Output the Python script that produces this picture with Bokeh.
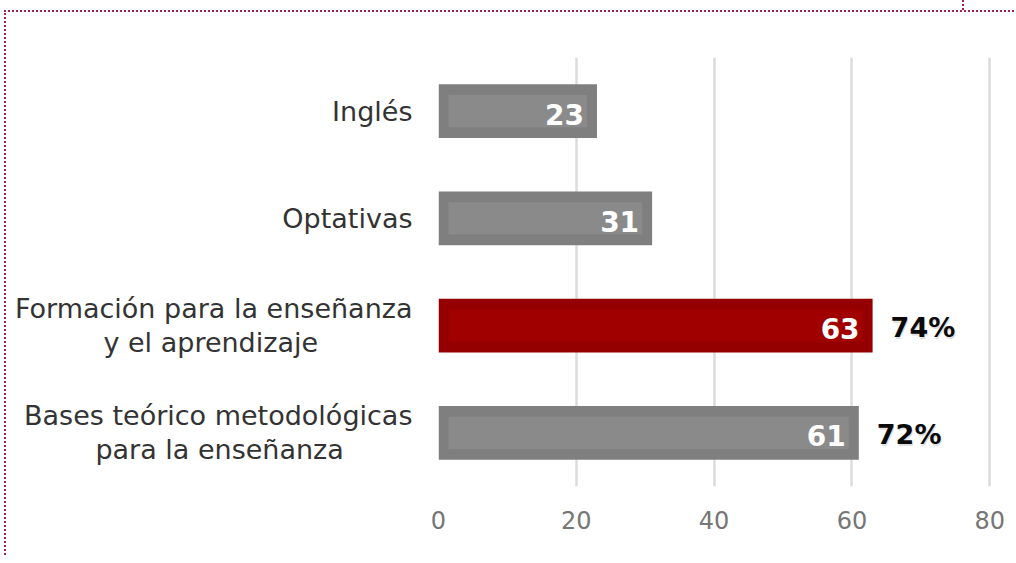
from bokeh.plotting import figure
from bokeh.models import ColumnDataSource, Range1d, FixedTicker, InlineStyleSheet
from bokeh.core.properties import value
from bokeh.embed import file_html
from bokeh.resources import INLINE

# ---- data (bottom to top) ----
categories = [
    ["Bases teórico metodológicas", "para la enseñanza"],
    ["Formación para la enseñanza", "y el aprendizaje"],
    ["Optativas"],
    ["Inglés"],
]
counts = [61, 63, 31, 23]
percents = ["72%", "74%", "", ""]
highlight = [False, True, False, False]
x_ticks = [0, 20, 40, 60, 80]

GRAY_OUT, GRAY_IN = "#7f7f7f", "#8a8a8a"
RED_OUT, RED_IN = "#940000", "#a00000"
BORDER = "#a3214a"
INSET = 1.45  # ~10px glow inset, in data units
NBSP = "\u00a0"
# trailing no-break spaces so that the second line of a right-aligned
# two-line tick label sits centred under the first line
PAD = {0: 8, 1: 11}

y_pos = list(range(len(categories)))


def tick_text(i, lines):
    if len(lines) == 1:
        return lines[0]
    return lines[0] + "\n" + lines[1] + NBSP * PAD.get(i, 0)


src = ColumnDataSource(dict(
    y=y_pos,
    count=counts,
    inner_left=[INSET for _ in counts],
    inner_right=[c - INSET for c in counts],
    label=[str(c) for c in counts],
    pct=percents,
    outer=[RED_OUT if h else GRAY_OUT for h in highlight],
    inner=[RED_IN if h else GRAY_IN for h in highlight],
))

p = figure(
    width=1010, height=545,
    y_range=Range1d(-0.5, len(categories) - 0.5),
    x_range=Range1d(0, 80.4),
    output_backend="svg", toolbar_location=None,
    min_border_left=432, min_border_right=24, min_border_top=45, min_border_bottom=71,
)
p.styles = {
    "border-top": f"2px dotted {BORDER}",
    "border-left": f"2px dotted {BORDER}",
    "margin-left": "4px",
    "margin-top": "10px",
}
p.stylesheets = [InlineStyleSheet(css=f"""
:host {{ position: relative; }}
:host::before {{ content: ""; position: absolute; left: 956px; top: -12px;
  height: 10px; border-left: 2px dotted {BORDER}; }}
""")]
p.outline_line_color = None
p.background_fill_color = "white"

# grid
p.ygrid.grid_line_color = None
p.xgrid.grid_line_color = "#dcdcdc"
p.xgrid.grid_line_width = 2.5
p.xaxis.ticker = FixedTicker(ticks=x_ticks)

# x axis
p.xaxis.axis_line_color = None
p.xaxis.major_tick_line_color = None
p.xaxis.major_tick_out = 0
p.xaxis.major_tick_in = 0
p.xaxis.minor_tick_line_color = None
p.xaxis.major_label_standoff = 24
p.xaxis.major_label_text_font = "DejaVu Sans"
p.xaxis.major_label_text_font_size = "24px"
p.xaxis.major_label_text_color = "#767676"

# y axis (categories)
p.yaxis.ticker = FixedTicker(ticks=y_pos)
p.yaxis.major_label_overrides = {i: tick_text(i, lines) for i, lines in zip(y_pos, categories)}
p.yaxis.axis_line_color = None
p.yaxis.major_tick_line_color = None
p.yaxis.major_tick_out = 0
p.yaxis.major_tick_in = 0
p.yaxis.minor_tick_line_color = None
p.yaxis.major_label_standoff = 26
p.yaxis.major_label_text_font = "DejaVu Sans"
p.yaxis.major_label_text_font_size = "27px"
p.yaxis.major_label_text_line_height = 1.1
p.yaxis.major_label_text_color = "#333333"

# bars
p.hbar(y="y", left=0, right="count", height=0.5, source=src,
       fill_color="outer", line_color=None)
p.hbar(y="y", left="inner_left", right="inner_right", height=0.3, source=src,
       fill_color="inner", line_color=None)

# value labels inside bars
p.text(x="count", y="y", text="label", source=src,
       x_offset=-13, y_offset=3, text_align="right", text_baseline="middle",
       text_color="white", text_font=value("DejaVu Sans"),
       text_font_size="28px", text_font_style="bold")

# percent labels (with soft shadow)
p.text(x="count", y="y", text="pct", source=src,
       x_offset=19, y_offset=4, text_align="left", text_baseline="middle",
       text_color="#000000", text_alpha=0.12, text_font=value("DejaVu Sans"),
       text_font_size="27px", text_font_style="bold")
p.text(x="count", y="y", text="pct", source=src,
       x_offset=18, y_offset=2, text_align="left", text_baseline="middle",
       text_color="#0a0a0a", text_font=value("DejaVu Sans"),
       text_font_size="27px", text_font_style="bold")

open("out.html", "w").write(file_html(p, INLINE))
